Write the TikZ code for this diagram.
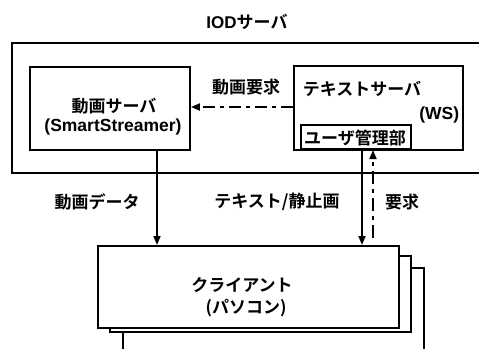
\documentclass[tikz,border=0pt]{standalone}
\usepackage{fontspec}
\setmainfont{Liberation Sans}
\newfontfamily\jp{Noto Sans CJK JP}[BoldFont={Noto Sans CJK JP Bold}]
\usetikzlibrary{arrows.meta,positioning,calc}
\begin{document}
\begin{tikzpicture}[x=1pt,y=1pt,
  line width=1.8pt,
  box/.style={draw,line width=1.8pt,rectangle,inner sep=0pt},
  lbl/.style={inner sep=0pt,font=\jp\bfseries\fontsize{17}{18}\selectfont},
  tip/.style={-{Triangle[length=9pt,width=7pt]}},
  dd/.style={dash pattern=on 12pt off 5pt on 4pt off 5pt}]
\useasboundingbox (0,0) rectangle (479,349);
% outer IOD server frame (runs off the right edge)
\coordinate (oTR) at (479,306);
\coordinate (oTL) at (12,306);
\coordinate (oBL) at (12,176);
\coordinate (oBR) at (479,176);
\draw[line width=1.9pt] (oTR) -- (oTL) -- (oBL) -- (oBR);
\node[lbl] (iod) at (247,327) {{\rmfamily\bfseries IOD}サーバ};
% video server
\node[box,minimum width=160pt,minimum height=83pt] (vs) at (110,240.5) {};
\node[lbl] (vst) at (114,243) {動画サーバ};
\node[lbl,font=\rmfamily\bfseries\fontsize{17.5}{18}\selectfont] (vss) at (113,222) {(SmartStreamer)};
% text server
\node[box,minimum width=169pt,minimum height=84pt] (ts) at (378.5,241) {};
\node[lbl,anchor=west] (tst) at (302,260) {テキストサーバ};
\node[lbl,anchor=east,font=\rmfamily\bfseries\fontsize{17.5}{18}\selectfont] (ws) at (460,234) {(WS)};
\node[box,minimum width=110pt,minimum height=24pt,anchor=south west] (um) at (300,199) {};
\node[lbl] (umt) at (355,211) {ユーザ管理部};
% movie request (dashed)
\draw[tip,dd] (ts.west |- 0,242) -- (vs.east |- 0,242);
\node[lbl] (mreq) at (246,262) {動画要求};
% client stack
\node[box,minimum width=301pt,minimum height=82pt,anchor=north west] (cl) at (97,104) {};
\coordinate (s1a) at (398,93);
\coordinate (s1b) at (411,93);
\coordinate (s1c) at (411,17);
\coordinate (s1d) at (110,17);
\coordinate (s1e) at (110,22);
\draw (s1a) -- (s1b) -- (s1c) -- (s1d) -- (s1e);
\coordinate (s2a) at (411,81);
\coordinate (s2b) at (424,81);
\coordinate (s2c) at (424,0);
\coordinate (s2d) at (123,17);
\coordinate (s2e) at (123,0);
\draw (s2a) -- (s2b) -- (s2c);
\draw (s2d) -- (s2e);
\node[lbl] (clt) at (242,64) {クライアント};
\node[lbl] (cls) at (246,41) {({\jp\bfseries パソコン})};
% data arrows
\draw[tip] (vs.south -| 157,0) -- (cl.north -| 157,0);
\draw[tip] (um.south -| 362,0) -- (cl.north -| 362,0);
\coordinate (rq) at (373,111);
\draw[tip,dash pattern=on 13pt off 5pt on 4pt off 5pt] (rq) -- (um.south -| 373,0);
\node[lbl] (vd) at (97,147) {動画データ};
\node[lbl] (td) at (277,147) {テキスト/静止画};
\node[lbl] (req) at (402,147) {要求};
\end{tikzpicture}
\end{document}
